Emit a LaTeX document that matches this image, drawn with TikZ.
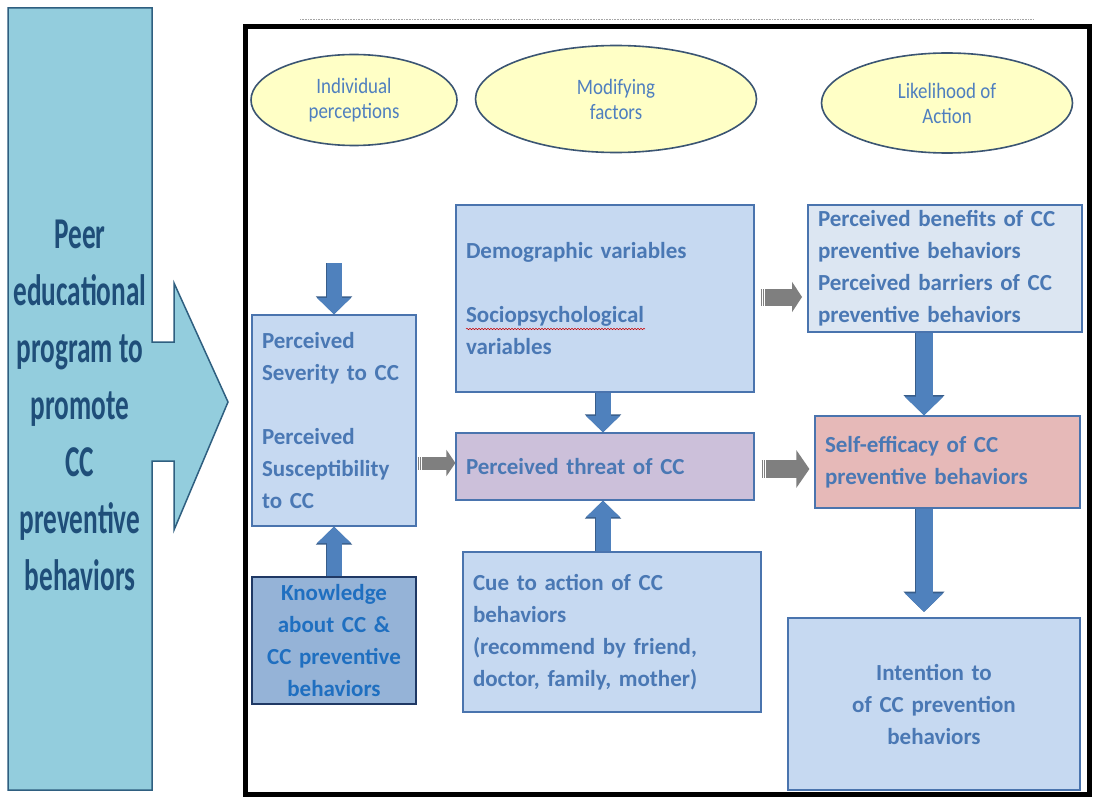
\documentclass[tikz,border=0pt]{standalone}
\usepackage{fontspec}
\setmainfont{Carlito}
\newfontfamily\narrowf[FakeStretch=0.62]{Carlito}
\newfontfamily\ellf[FakeStretch=0.86]{Carlito}
\usetikzlibrary{arrows.meta,calc,shapes.geometric,decorations.pathmorphing}
\definecolor{leftfill}{HTML}{93CDDD}
\definecolor{leftline}{HTML}{2F5F80}
\definecolor{lefttext}{HTML}{1F4E79}
\definecolor{boxfill}{HTML}{C6D9F1}
\definecolor{boxline}{HTML}{4A74AE}
\definecolor{boxtext}{HTML}{4A78B4}
\definecolor{benfill}{HTML}{DCE6F2}
\definecolor{threatfill}{HTML}{CCC0DA}
\definecolor{selffill}{HTML}{E6B9B8}
\definecolor{knowfill}{HTML}{95B3D7}
\definecolor{knowline}{HTML}{1F3864}
\definecolor{knowtext}{HTML}{1F6FC0}
\definecolor{ellfill}{HTML}{FFFFC6}
\definecolor{ellline}{HTML}{3B5573}
\definecolor{elltext}{HTML}{4F7FBF}
\definecolor{barrow}{HTML}{4F81BD}
\definecolor{barrowline}{HTML}{385D8A}
\definecolor{garrow}{HTML}{7F7F7F}
\tikzset{
  x=1pt, y=-1pt,
  boxbase/.style={draw=boxline, line width=1.2pt, fill=boxfill, text=boxtext,
    font=\bfseries\fontsize{23}{32}\selectfont, inner xsep=10pt, inner ysep=0pt,
    align=left, minimum height=#1},
  tagell/.style={ellipse, draw=ellline, line width=1.6pt, fill=ellfill, text=elltext,
    font=\ellf\fontsize{22}{25}\selectfont, align=center, inner sep=0pt},
  bluearr/.style={draw=barrow, line width=#1,
    -{Triangle[width=2.2*#1,length=1.1*#1]},
    preaction={draw=barrowline, line width=#1+1.6pt, -{Triangle[width=2.2*#1+2.4pt,length=1.1*#1+1.6pt]}}},
  grayarr/.style args={#1/#2/#3}{draw=garrow, line width=#1,
    dash pattern=on 1.3pt off 1.1pt on 1.3pt off 1.1pt on 300pt off 0pt,
    -{Triangle[width=#2,length=#3]}},
}
\begin{document}
\begin{tikzpicture}
\useasboundingbox (0,0) rectangle (1094,797);
\fill[white] (0,0) rectangle (1094,797);

% left program arrow
\filldraw[fill=leftfill, draw=leftline, line width=1.5pt]
  (8,8) -- (152,8) -- (152,342) -- (174,342) -- (174,283) -- (228,402)
  -- (174,530) -- (174,461) -- (152,461) -- (152,790) -- (8,790) -- cycle;
\node[text=lefttext, font=\narrowf\bfseries\fontsize{44}{57}\selectfont, align=center]
  (prog) at (80,405) {Peer\\educational\\program to\\promote\\CC\\preventive\\behaviors};

% top dotted line and frame
\draw[gray!70, line width=0.6pt, densely dotted] (300,19) -- (1033,19);
\draw[black, line width=5pt] (245,27) rectangle (1089,794);

% header ellipses
\node[tagell, minimum width=206pt, minimum height=91pt] (ind) at (354,100) {Individual\\perceptions};
\node[tagell, minimum width=281pt, minimum height=107pt] (mod) at (616,99) {Modifying\\factors};
\node[tagell, minimum width=251pt, minimum height=100pt] (lik) at (947,103) {Likelihood of\\Action};

% boxes
\node[boxbase=211pt, text width=144pt] (sev) at (334,420.5)
  {Perceived\\Severity to CC\\[32pt]Perceived\\Susceptibility\\to CC};
\node[boxbase=127pt, text width=144pt, fill=knowfill, draw=knowline, line width=1.8pt,
  text=knowtext, align=center] (know) at (334,640.5)
  {Knowledge\\about CC \&\\CC preventive\\behaviors};
\node[boxbase=187pt, text width=278pt] (demo) at (605,298.5)
  {Demographic variables\\[32pt]Sociopsychological\\variables};
\node[boxbase=67pt, text width=278pt, fill=threatfill] (threat) at (605,466.5)
  {Perceived threat of CC};
\node[boxbase=160pt, text width=278pt] (cue) at (612,632)
  {Cue to action of CC\\behaviors\\(recommend by friend,\\doctor, family, mother)};
\node[boxbase=127pt, text width=254pt, fill=benfill] (ben) at (945,268.5)
  {Perceived benefits of CC\\preventive behaviors\\Perceived barriers of CC\\preventive behaviors};
\node[boxbase=92pt, text width=245pt, fill=selffill] (self) at (947.5,462)
  {Self-efficacy of CC\\preventive behaviors};
\node[boxbase=172pt, text width=272pt, align=center] (intent) at (934,704)
  {Intention to\\of CC prevention\\behaviors};

% spell-check squiggle
\draw[red!80!black, line width=0.5pt, decorate,
  decoration={snake, amplitude=0.7pt, segment length=3pt}] (466,329) -- (645,329);

% blue arrows
\coordinate (sevtop) at (334,263);
\coordinate (colx) at (924,0);
\coordinate (cuex) at (603,0);
\draw[bluearr=15pt] (sevtop) -- (sev.north);
\draw[bluearr=15pt] (know.north) -- (sev.south);
\draw[bluearr=15pt] (demo.south -| cuex) -- (threat.north -| cuex);
\draw[bluearr=15pt] (cue.north -| cuex) -- (threat.south -| cuex);
\draw[bluearr=17pt] (ben.south -| colx) -- (self.north -| colx);
\coordinate (intop) at (924,612);
\draw[bluearr=17pt] (self.south -| colx) -- (intop);

% gray arrows
\coordinate (g1) at (0,463);
\coordinate (g2) at (0,297);
\coordinate (g3) at (0,469);
\coordinate (g2e) at (802,297);
\draw[grayarr=13pt/26pt/9pt] ([xshift=1pt]sev.east |- g1) -- (threat.west |- g1);
\draw[grayarr=17pt/30pt/10pt] ([xshift=6pt]demo.east |- g2) -- (g2e);
\draw[grayarr=18pt/37pt/13pt] ([xshift=7pt]threat.east |- g3) -- ([xshift=-5pt]self.west |- g3);
\end{tikzpicture}
\end{document}
